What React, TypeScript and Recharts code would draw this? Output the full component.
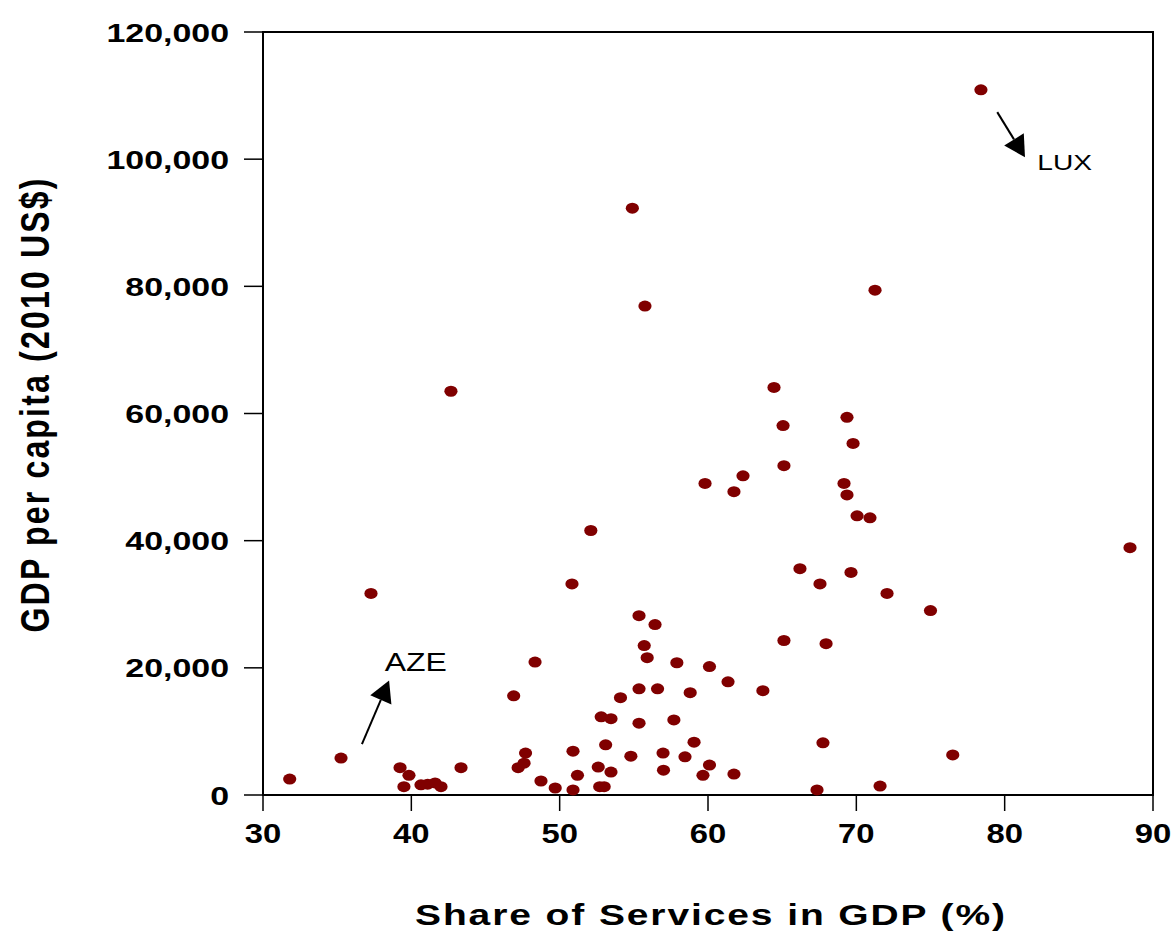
import React from "react";
import {
  ReferenceArea,
  ReferenceDot,
  ReferenceLine,
  Scatter,
  ScatterChart,
  XAxis,
  YAxis,
} from "recharts";

// share of services in GDP (%) per country
const services = [
  78.4, 54.9, 55.75, 71.26, 42.67, 64.45, 69.37, 65.06, 69.78, 65.12,
  62.36, 59.8, 61.75, 69.17, 69.37, 70.05, 70.92, 52.1, 88.45, 66.2,
  69.64, 67.55, 50.83, 37.28, 72.07, 75.0, 55.35, 56.43, 65.12, 67.96,
  55.7, 55.9, 48.34, 57.9, 60.1, 61.35, 56.6, 55.35, 63.7, 58.8,
  46.9, 54.1, 52.8, 53.46, 57.7, 55.35, 59.06, 67.75, 53.1, 50.9,
  47.7, 56.97, 54.8, 58.45, 35.26, 76.5, 47.6, 47.2, 60.1, 52.6,
  39.24, 43.35, 57.0, 53.46, 39.84, 51.2, 59.66, 61.75, 31.8, 48.74,
  41.1, 40.65, 41.6, 39.5, 42.0, 49.7, 52.7, 53.0, 50.9, 71.6, 67.35,
];

// GDP per capita (2010 US$), same order
const gdp = [
  110900, 92300, 76900, 79400, 63500, 64100, 59400, 58100, 55300, 51800,
  50200, 49000, 47700, 49000, 47200, 43900, 43600, 41600, 38900, 35600,
  35000, 33200, 33200, 31700, 31700, 29000, 28200, 26800, 24300, 23800,
  23500, 21600, 20900, 20800, 20200, 17800, 16700, 16700, 16400, 16100,
  15600, 15300, 12300, 12000, 11800, 11300, 8300, 8200, 7900, 6900,
  6600, 6600, 6100, 6000, 5800, 6300, 5000, 4300, 4700, 4400,
  4300, 4300, 3900, 3600, 3100, 3100, 3100, 3300, 2500, 2200,
  1700, 1600, 1900, 1300, 1300, 1100, 1300, 1300, 800, 1400, 800,
];

const xTicks = [30, 40, 50, 60, 70, 80, 90];
const yTicks = [0, 20000, 40000, 60000, 80000, 100000, 120000];

// labelled countries: arrow from -> to, text anchored at text (data coords)
const annotations = [
  { label: "AZE", from: [36.67, 8000], to: [38.5, 18000], text: [38.2, 19500] },
  { label: "LUX", from: [79.5, 107400], to: [81.37, 100300], text: [82.2, 98300] },
];
const annotationFontSize: Record<string, number> = { AZE: 25, LUX: 22 };

const points = services.map((s, i) => ({ x: s, y: gdp[i] }));

const FONT = "'Liberation Sans', Arial, sans-serif";
const STRETCH = 1.28;

const fmt = (v: number) => String(v).replace(/\B(?=(\d{3})+(?!\d))/g, ",");

const XTick = (props: any) => {
  const { x, y, payload } = props;
  return (
    <text
      transform={`translate(${x},${y + 32}) scale(${STRETCH * 0.95},1)`}
      textAnchor="middle"
      fontFamily={FONT}
      fontWeight="bold"
      fontSize={27}
      fill="#000"
    >
      {payload.value}
    </text>
  );
};

const YTick = (props: any) => {
  const { x, y, payload } = props;
  return (
    <text
      transform={`translate(${x - 15},${y + 9.5}) scale(${STRETCH},1)`}
      textAnchor="end"
      fontFamily={FONT}
      fontWeight="bold"
      fontSize={26.5}
      fill="#000"
    >
      {fmt(payload.value)}
    </text>
  );
};

const Dot = (props: any) => (
  <ellipse cx={props.cx} cy={props.cy} rx={6.6} ry={5.5} fill="#800000" />
);

const Arrow = (props: any) => {
  const { x1, y1, x2, y2 } = props;
  const dx = x2 - x1;
  const dy = y2 - y1;
  const len = Math.sqrt(dx * dx + dy * dy) || 1;
  const ux = dx / len;
  const uy = dy / len;
  const head = 21;
  const half = 11.5;
  const bx = x2 - ux * head;
  const by = y2 - uy * head;
  return (
    <g>
      <line x1={x1} y1={y1} x2={bx} y2={by} stroke="#000" strokeWidth={2} />
      <polygon
        points={`${x2},${y2} ${bx - uy * half},${by + ux * half} ${bx + uy * half},${by - ux * half}`}
        fill="#000"
      />
    </g>
  );
};

const AnnotationText = (label: string) => (props: any) => (
  <text
    transform={`translate(${props.cx},${props.cy}) scale(${STRETCH},1)`}
    fontFamily={FONT}
    fontSize={annotationFontSize[label]}
    fill="#000"
  >
    {label}
  </text>
);

export default function App() {
  return (
    <div style={{ position: "absolute", left: 0, top: 0, background: "#fff" }}>
      <ScatterChart
        width={1171}
        height={938}
        margin={{ top: 32, right: 18, bottom: 0, left: 0 }}
      >
        <XAxis
          type="number"
          dataKey="x"
          domain={[30, 90]}
          ticks={xTicks}
          height={143}
          tickSize={16}
          tickMargin={0}
          tick={<XTick />}
          tickLine={{ stroke: "#000", strokeWidth: 1.5 }}
          axisLine={{ stroke: "#000", strokeWidth: 2 }}
          label={{
            content: (p: any) => (
              <text
                transform={`translate(${p.viewBox.x + p.viewBox.width / 2 + 2},${p.viewBox.y + 130}) scale(1.3,1)`}
                textAnchor="middle"
                fontFamily={FONT}
                fontWeight="bold"
                fontSize={30}
                textLength={590 / 1.3}
                lengthAdjust="spacing"
                fill="#000"
              >
                Share of Services in GDP (%)
              </text>
            ),
          }}
        />
        <YAxis
          type="number"
          dataKey="y"
          domain={[0, 120000]}
          ticks={yTicks}
          width={263}
          tickSize={19}
          tickMargin={0}
          tick={<YTick />}
          tickLine={{ stroke: "#000", strokeWidth: 1.5 }}
          axisLine={{ stroke: "#000", strokeWidth: 2 }}
          label={{
            content: (p: any) => (
              <text
                transform={`translate(49,${p.viewBox.y + p.viewBox.height / 2 - 8}) scale(${STRETCH},1) rotate(-90)`}
                textAnchor="middle"
                fontFamily={FONT}
                fontWeight="bold"
                fontSize={32}
                textLength={454}
                lengthAdjust="spacing"
                fill="#000"
              >
                GDP per capita (2010 US$)
              </text>
            ),
          }}
        />
        <ReferenceArea
          x1={30}
          x2={90}
          y1={0}
          y2={120000}
          fill="none"
          stroke="#000"
          strokeWidth={2}
        />
        {annotations.map((a) => (
          <ReferenceLine
            key={a.label + "-arrow"}
            segment={[
              { x: a.from[0], y: a.from[1] },
              { x: a.to[0], y: a.to[1] },
            ]}
            shape={<Arrow />}
          />
        ))}
        {annotations.map((a) => (
          <ReferenceDot
            key={a.label + "-text"}
            x={a.text[0]}
            y={a.text[1]}
            shape={AnnotationText(a.label)}
          />
        ))}
        <Scatter data={points} shape={<Dot />} isAnimationActive={false} />
      </ScatterChart>
    </div>
  );
}
